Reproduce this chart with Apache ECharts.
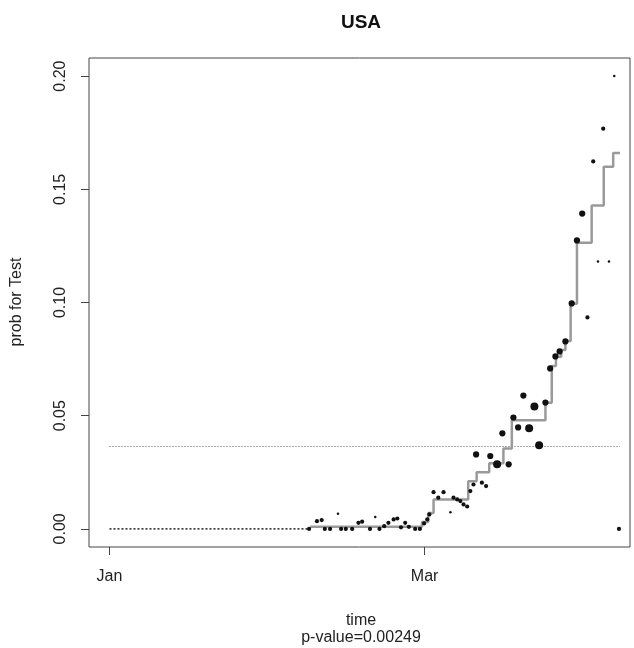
<!DOCTYPE html>
<html><head><meta charset="utf-8">
<script src="https://cdn.jsdelivr.net/npm/echarts@6/dist/echarts.min.js"></script>
<style>html,body{margin:0;padding:0;background:#fff}#c{width:634px;height:648px}</style>
</head><body><div id="c"></div>
<script>
// ---- data (x in days since Jan 1) ----
const pointDays = [38.0,39.5,40.4,41.0,42.0,43.5,44.1,45.0,46.2,47.4,48.1,49.6,50.6,51.4,52.3,53.1,54.1,54.8,55.5,56.3,57.0,58.2,59.1,59.9,60.5,60.9,61.7,62.6,63.6,64.9,65.5,66.2,66.8,67.4,68.1,68.7,69.3,69.8,70.9,71.7,72.5,73.8,74.8,76.0,76.9,77.8,78.8,79.9,80.9,81.8,83.0,83.9,84.9,85.7,86.8,88.0,89.0,90.0,91.0,92.1,93.0,94.0,95.1,96.1,97.0];
const pointValues = [0,0.0034,0.0039,0,0,0.0067,0,0,0,0.0027,0.0032,0,0.0052,0,0.0012,0.0027,0.0042,0.0046,0.0007,0.0027,0.0009,0,0,0.0024,0.0042,0.0064,0.0162,0.0138,0.0162,0.0074,0.0138,0.013,0.0123,0.0108,0.0099,0.0167,0.0196,0.0329,0.0204,0.0189,0.0322,0.0285,0.0422,0.0285,0.0492,0.0448,0.0589,0.0444,0.0541,0.0369,0.0558,0.0709,0.0762,0.0784,0.0828,0.0996,0.1274,0.1393,0.0934,0.1623,0.1181,0.1768,0.1181,0.2,0];
const pointWeights = [2,2,2,2,2,1,2,2,2,2,2,2,1,2,2,2,2,2,2,2,2,2,2,2,2,2,2,2,2,1,2,2,2,2,2,2,2,3,2,2,3,4,3,3,3,3,3,4,4,4,3,3,3,3,3,3,3,3,2,2,1,2,1,1,2];
const stepDays = [38.2,59.5,60.7,61.7,68.3,69.9,72.3,75.0,76.6,83.0,84.2,85.0,86.0,86.8,87.8,89.0,91.8,94.1,95.9,97.2];
const stepLevels = [0.001,0.003,0.007,0.013,0.021,0.025,0.029,0.0355,0.048,0.0557,0.072,0.076,0.079,0.083,0.0994,0.1264,0.1428,0.160,0.166,0.166];
const meanLevel = 0.0364;
const meanSpan = [0, 97.2];
const zeroSpan = [0, 38];
const xTickDays = [0, 60];
const xTickLabels = ['Jan', 'Mar'];
const yTicks = [0, 0.05, 0.10, 0.15, 0.20];
const titleText = 'USA';
const xName = 'time';
const yName = 'prob for Test';
const subText = 'p-value=0.00249';

// ---- styling ----
const FONT = '"Liberation Sans", Arial, Helvetica, sans-serif';
const sizeOf = {1: 2.5, 2: 4.2, 3: 6.2, 4: 8};
const scatterData = pointDays.map((d, i) => [d, pointValues[i], pointWeights[i]]);
const stepData = stepDays.map((d, i) => [d, stepLevels[i]]);

const chart = echarts.init(document.getElementById('c'), null, {renderer: 'canvas'});
chart.setOption({
  animation: false,
  backgroundColor: '#fff',
  grid: {left: 89, right: 4, top: 58, bottom: 101, show: true, borderColor: '#444', borderWidth: 1, backgroundColor: 'transparent'},
  xAxis: {
    type: 'value', min: -3.9, max: 99.1,
    axisLine: {show: false, onZero: false}, splitLine: {show: false},
    axisTick: {show: true, customValues: xTickDays, length: 8, lineStyle: {color: '#444', width: 1}},
    axisLabel: {customValues: xTickDays, margin: 22, color: '#222', fontFamily: FONT, fontSize: 16,
      formatter: v => xTickLabels[xTickDays.indexOf(Math.round(v))] || ''}
  },
  yAxis: {
    type: 'value', min: -0.008, max: 0.208,
    axisLine: {show: false, onZero: false}, splitLine: {show: false},
    axisTick: {show: true, customValues: yTicks, length: 8, lineStyle: {color: '#444', width: 1}},
    axisLabel: {customValues: yTicks, rotate: 90, margin: 20, color: '#222', fontFamily: FONT, fontSize: 16,
      formatter: v => v.toFixed(2)}
  },
  graphic: [
    {type: 'text', x: 361, y: 23, style: {text: titleText, font: 'bold 19px ' + FONT, fill: '#111', textAlign: 'center', textVerticalAlign: 'middle'}},
    {type: 'text', x: 361, y: 621, style: {text: xName, font: '16px ' + FONT, fill: '#222', textAlign: 'center', textVerticalAlign: 'middle'}},
    {type: 'text', x: 361, y: 638, style: {text: subText, font: '16px ' + FONT, fill: '#222', textAlign: 'center', textVerticalAlign: 'middle'}},
    {type: 'text', x: 17, y: 302, rotation: Math.PI / 2, style: {text: yName, font: '16px ' + FONT, fill: '#222', textAlign: 'center', textVerticalAlign: 'middle'}}
  ],
  series: [
    {type: 'line', data: [[zeroSpan[0], 0], [zeroSpan[1], 0]], symbol: 'none', silent: true,
      lineStyle: {color: '#222', width: 1.5, type: [2, 2]}, z: 2},
    {type: 'line', data: [[meanSpan[0], meanLevel], [meanSpan[1], meanLevel]], symbol: 'none', silent: true,
      lineStyle: {color: '#555', width: 1, type: [1, 2]}, z: 2},
    {type: 'line', data: stepData, step: 'end', symbol: 'none', silent: true,
      lineStyle: {color: '#9a9a9a', width: 2.5}, z: 3},
    {type: 'scatter', data: scatterData, symbol: 'circle', symbolSize: d => sizeOf[d[2]],
      itemStyle: {color: '#111', opacity: 1}, z: 4}
  ]
});
</script>
</body></html>
